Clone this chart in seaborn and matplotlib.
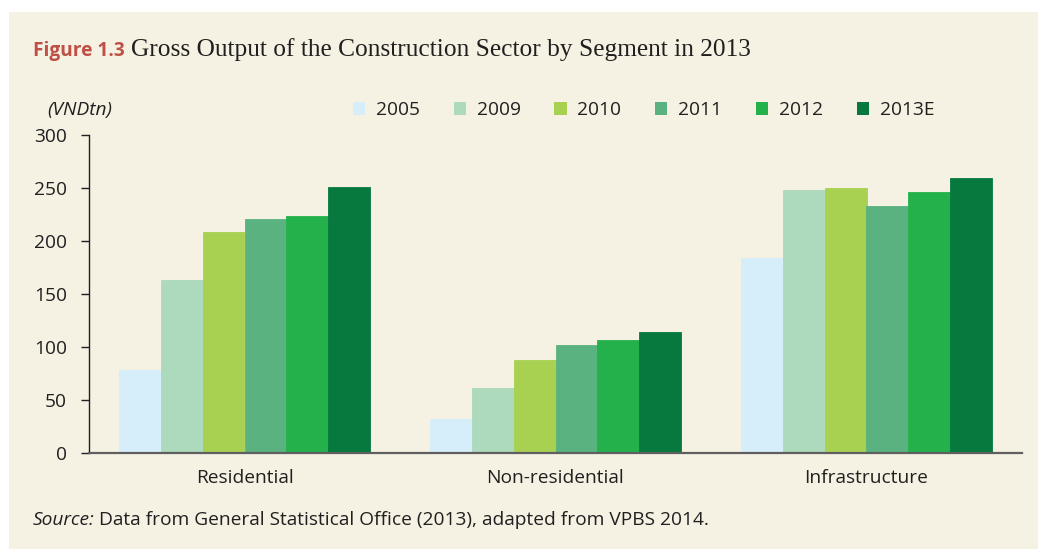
import numpy as np
import pandas as pd
import matplotlib
matplotlib.use("Agg")
import matplotlib.pyplot as plt
import matplotlib.patches as mpatches
import seaborn as sns

# ── data ────────────────────────────────────────────────────────────────────
segments = ["Residential", "Non-residential", "Infrastructure"]
years    = ["2005", "2009", "2010", "2011", "2012", "2013E"]
v2005  = [78, 32, 184]
v2009  = [163, 61, 248]
v2010  = [208, 87, 250]
v2011  = [220, 102, 233]
v2012  = [223, 106, 246]
v2013e = [251, 114, 259]
series = [v2005, v2009, v2010, v2011, v2012, v2013e]

colors = ["#D6EEF9", "#ADD9BD", "#A8D152", "#5AB280", "#24B14C", "#07793F"]
BEIGE  = "#F5F1E3"
TEXT   = "#231F20"
RED    = "#BE5046"
FS     = 13.8

df = pd.DataFrame([(s, y, v) for y, vals in zip(years, series)
                   for s, v in zip(segments, vals)],
                  columns=["segment", "year", "value"])

sns.set_style("ticks")
plt.rcParams["font.family"] = ["Open Sans", "DejaVu Sans"]
plt.rcParams["text.color"] = TEXT

W, H = 1038, 549
fig = plt.figure(figsize=(W / 100, H / 100), dpi=100, facecolor="white")
fig.patches.append(mpatches.Rectangle((9 / W, 0), 1, 1 - 12 / H,
                                      transform=fig.transFigure,
                                      facecolor=BEIGE, edgecolor="none", zorder=-10))

ax = fig.add_axes([89 / W, 1 - 452.7 / H, (1022 - 89) / W, (452.7 - 134.7) / H])
ax.set_facecolor("none")

sns.barplot(data=df, x="segment", y="value", hue="year", order=segments,
            hue_order=years, palette=colors, saturation=1, width=0.805,
            linewidth=0, ax=ax, legend=False, errorbar=None)
# close the hairline seams between adjacent bars
for p in ax.patches:
    p.set_edgecolor(p.get_facecolor())
    p.set_linewidth(0.6)

ax.set_xlim(-0.5, 2.5)
ax.set_ylim(0, 300)
ax.set_yticks(np.arange(0, 301, 50))
ax.set_xlabel("")
ax.set_ylabel("")
for sp in ["top", "right"]:
    ax.spines[sp].set_visible(False)
ax.spines["left"].set_color(TEXT)
ax.spines["left"].set_linewidth(1.0)
ax.spines["bottom"].set_color("#5f5f5f")
ax.spines["bottom"].set_linewidth(1.6)
ax.spines["bottom"].set_zorder(5)
ax.tick_params(axis="y", length=6, width=1.0, color=TEXT, pad=10,
               labelsize=FS, labelcolor=TEXT)
ax.tick_params(axis="x", length=0, pad=12, labelsize=FS, labelcolor=TEXT)

# legend
handles = [mpatches.Patch(facecolor=c, edgecolor="none", label=y)
           for c, y in zip(colors, years)]
fig.legend(handles=handles, loc="center left", ncol=6, frameon=False,
           bbox_to_anchor=(353 / W, 1 - 110 / H), bbox_transform=fig.transFigure,
           fontsize=FS, handlelength=0.63, handleheight=0.63, handletextpad=0.57,
           columnspacing=1.76, borderpad=0, borderaxespad=0)

# unit label
fig.text(47 / W, 1 - 110 / H, "(VNDtn)", fontsize=FS, style="italic",
         ha="left", va="center")

# title
t1 = fig.text(33 / W, 1 - 56 / H, "Figure 1.3", fontsize=13.8, fontweight="bold",
              color=RED, ha="left", va="baseline")
fig.canvas.draw()
bb = t1.get_window_extent()
fig.text((bb.x1 + 6) / W, 1 - 56 / H,
         "Gross Output of the Construction Sector by Segment in 2013",
         fontsize=18.3, family=["Liberation Serif", "DejaVu Serif"],
         ha="left", va="baseline")

# source
s1 = fig.text(33 / W, 1 - 525 / H, "Source:", fontsize=FS, style="italic",
              ha="left", va="baseline")
fig.canvas.draw()
bb = s1.get_window_extent()
fig.text((bb.x1 + 4) / W, 1 - 525 / H,
         "Data from General Statistical Office (2013), adapted from VPBS 2014.",
         fontsize=FS, ha="left", va="baseline")

fig.savefig("out.png", dpi=100, facecolor=fig.get_facecolor())
